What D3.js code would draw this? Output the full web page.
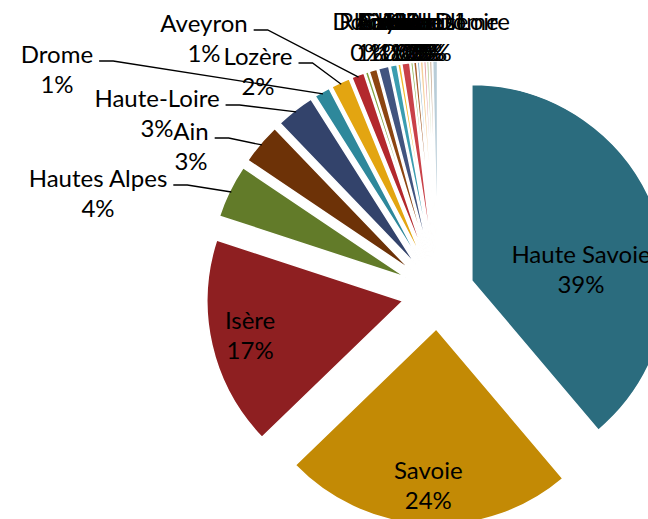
<!DOCTYPE html>
<html>
<head>
<meta charset="utf-8">
<script src="https://cdn.jsdelivr.net/npm/d3@7"></script>
<style>
  html, body { margin: 0; padding: 0; background: #fff; }
  svg { display: block; }
</style>
</head>
<body>
<div id="chart"></div>
<script>
// departements, in slice order (clockwise from 12 o'clock)
var departments = ["Haute Savoie", "Savoie", "Isère", "Hautes Alpes", "Ain", "Haute-Loire",
    "Drome", "Lozère", "Aveyron",
    "Doubs", "Rhône", "Loire", "Cantal", "Ardèche", "Allier", "Jura",
    "Gard", "Var", "Vaucluse", "Hérault", "Puy de Dôme", "Paris", "Saône et Loire"];
// share of visitors (%)
var shares = [38.9, 24.0, 17.3, 4.4, 3.4, 3.2,
    1.3, 1.55, 1.05,
    0.25, 0.65, 0.85, 0.55, 0.25, 0.65, 0.2, 0.25,
    0.2, 0.25, 0.2, 0.2, 0.2, 0.4];

var palette = ["#2b6c7e", "#c38a05", "#8e1f21", "#627b29", "#6d3207", "#33436b",
    "#2e889b", "#e3a511", "#b3282d", "#80a23b", "#8c4510", "#42547f",
    "#3b9db0", "#f3b92b", "#c94148", "#92b553", "#a65d2a", "#8fb6cc",
    "#f6cf9a", "#e19aa0", "#bccf9a", "#c4a68c", "#b9cdd8"];

var width = 648, height = 519;
var cx = 438, cy = 293, radius = 196, explode = 36;

// labels that Excel moved out of the way (center x, first baseline)
var labelSpots = {
    "Haute Savoie": [581, 263],
    "Hautes Alpes": [98, 187],
    "Ain": [191, 140],
    "Haute-Loire": [157, 107],
    "Drome": [57, 63],
    "Lozère": [258, 65],
    "Aveyron": [204, 32]
};
var insideCount = 3;
var topBaseline = 30;

var data = departments.map((d, i) => ({ name: d, value: shares[i] }));
var total = d3.sum(shares);

var svg = d3.select("#chart")
    .append("svg")
    .attr("width", width)
    .attr("height", height);

var pie = d3.pie().sort(null).value(d => d.value);
var arc = d3.arc().innerRadius(0).outerRadius(radius);

var arcs = pie(data);
arcs.forEach(a => {
    var mid = (a.startAngle + a.endAngle) / 2;
    a.ux = Math.sin(mid);
    a.uy = -Math.cos(mid);
    a.ox = cx + explode * a.ux;
    a.oy = cy + explode * a.uy;
});

svg.append("g")
    .selectAll("path")
    .data(arcs)
    .join("path")
    .attr("transform", d => `translate(${d.ox},${d.oy})`)
    .attr("d", arc)
    .attr("fill", (d, i) => palette[i % palette.length])
    .attr("stroke", "#fff")
    .attr("stroke-width", 1.5);

var pct = d => Math.round(d.value / total * 100) + "%";

var labels = svg.append("g")
    .style("font-family", "Lato, 'Open Sans', sans-serif")
    .style("font-size", "24px")
    .attr("fill", "#000")
    .attr("text-anchor", "middle");

var leaders = svg.append("g")
    .attr("fill", "none")
    .attr("stroke", "#000")
    .attr("stroke-width", 1.3);

arcs.forEach((a, i) => {
    var name = a.data.name;
    var x, y, gap = 30;
    if (labelSpots[name]) {
        x = labelSpots[name][0];
        y = labelSpots[name][1];
    } else if (i < insideCount) {
        x = a.ox + radius * 0.8 * a.ux;
        y = a.oy + radius * 0.8 * a.uy - 7;
    } else {
        // outside, pushed up against the top of the chart
        x = a.ox + radius * a.ux;
        y = topBaseline;
        gap = 31;
    }
    var t1 = labels.append("text").attr("x", x).attr("y", y).text(name);
    labels.append("text").attr("x", x).attr("y", y + gap).text(pct(a.data));

    if (labelSpots[name] && i >= insideCount) {
        var w = t1.node().getComputedTextLength();
        var sx = x + w / 2 + 6, sy = y - 2;
        var ex = a.ox + (radius - 2) * a.ux, ey = a.oy + (radius - 2) * a.uy;
        leaders.append("path")
            .attr("d", d3.line()([[sx, sy], [sx + 14, sy], [ex, ey]]));
    }
});
</script>
</body>
</html>
